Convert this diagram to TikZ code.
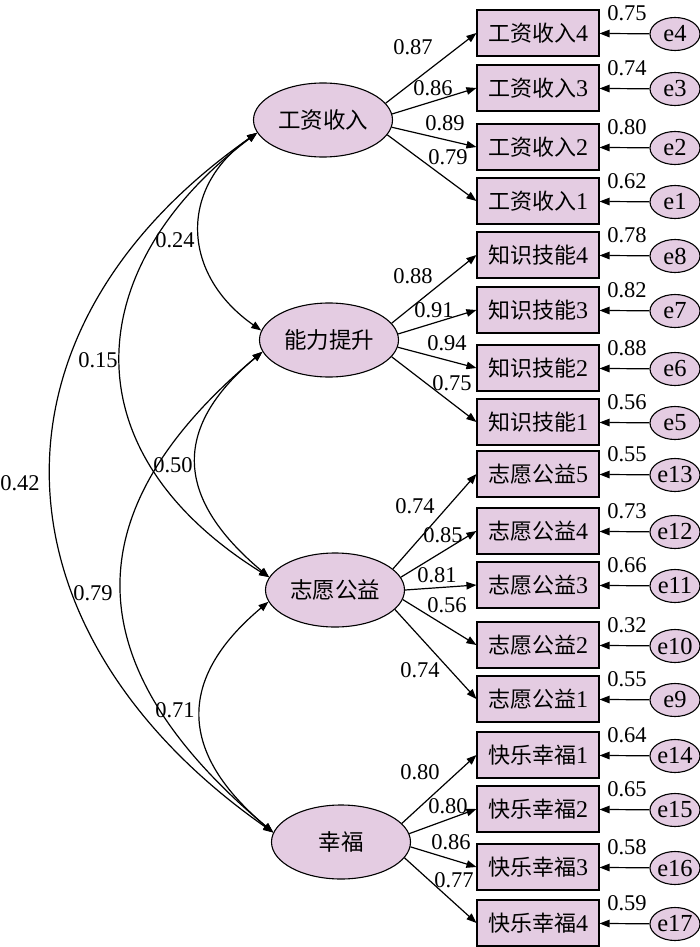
\documentclass[tikz,border=0pt]{standalone}
\usepackage{fontspec}
\setmainfont{Liberation Serif}
\newfontfamily\cjk{Noto Sans CJK SC}
\usetikzlibrary{shapes.geometric,arrows.meta}
\definecolor{pur}{RGB}{228,204,226}
\newcommand{\cn}[1]{{\fontsize{22}{24}\selectfont\cjk #1}}
\tikzset{
 lat/.style={ellipse, draw, line width=1.1pt, fill=pur, minimum width=139pt, minimum height=74pt, inner sep=0pt, font=\fontsize{22.5}{24}\selectfont\cjk},
 obs/.style={rectangle, draw, line width=1.1pt, fill=pur, minimum width=122pt, minimum height=46pt, inner sep=0pt, font=\fontsize{24}{26}\selectfont},
 err/.style={ellipse, draw, line width=1.1pt, fill=pur, minimum width=50pt, minimum height=33pt, inner sep=0pt, font=\fontsize{24.5}{26}\selectfont},
 lbl/.style={inner sep=0pt, font=\fontsize{22.5}{24}\selectfont},
 arr/.style={line width=1.2pt, -{Triangle[length=10pt,width=7.5pt]}},
 cov/.style={line width=1.2pt, {Triangle[length=10pt,width=7.5pt]}-{Triangle[length=10pt,width=7.5pt]}},
}
\begin{document}
\begin{tikzpicture}[x=1pt,y=1pt]
\useasboundingbox (0,0) rectangle (700,-947);
% latent variables
\node[lat] (L1) at (323,-120) {工资收入};
\node[lat] (L2) at (329,-340) {能力提升};
\node[lat] (L3) at (335,-590) {志愿公益};
\node[lat] (L4) at (341,-842) {幸福};
% group 1
\node[obs] (a4) at (538,-33) {\cn{工资收入}4};
\node[obs] (a3) at (538,-88) {\cn{工资收入}3};
\node[obs] (a2) at (538,-147) {\cn{工资收入}2};
\node[obs] (a1) at (538,-201) {\cn{工资收入}1};
\node[err] (e4) at (675,-34) {e4};
\node[err] (e3) at (675,-89) {e3};
\node[err] (e2) at (675,-148) {e2};
\node[err] (e1) at (675,-202) {e1};
% group 2
\node[obs] (b4) at (538,-255) {\cn{知识技能}4};
\node[obs] (b3) at (538,-310) {\cn{知识技能}3};
\node[obs] (b2) at (538,-368) {\cn{知识技能}2};
\node[obs] (b1) at (538,-422) {\cn{知识技能}1};
\node[err] (e8) at (675,-256) {e8};
\node[err] (e7) at (675,-311) {e7};
\node[err] (e6) at (675,-369) {e6};
\node[err] (e5) at (675,-423) {e5};
% group 3
\node[obs] (c5) at (538,-474) {\cn{志愿公益}5};
\node[obs] (c4) at (538,-531) {\cn{志愿公益}4};
\node[obs] (c3) at (538,-585) {\cn{志愿公益}3};
\node[obs] (c2) at (538,-645) {\cn{志愿公益}2};
\node[obs] (c1) at (538,-699) {\cn{志愿公益}1};
\node[err] (e13) at (675,-475) {e13};
\node[err] (e12) at (675,-532) {e12};
\node[err] (e11) at (675,-586) {e11};
\node[err] (e10) at (675,-646) {e10};
\node[err] (e9) at (675,-700) {e9};
% group 4
\node[obs] (d1) at (538,-755) {\cn{快乐幸福}1};
\node[obs] (d2) at (538,-809) {\cn{快乐幸福}2};
\node[obs] (d3) at (538,-867) {\cn{快乐幸福}3};
\node[obs] (d4) at (538,-923) {\cn{快乐幸福}4};
\node[err] (e14) at (675,-756) {e14};
\node[err] (e15) at (675,-810) {e15};
\node[err] (e16) at (675,-868) {e16};
\node[err] (e17) at (675,-924) {e17};
% error arrows
\foreach \e/\o in {e4/a4,e3/a3,e2/a2,e1/a1,e8/b4,e7/b3,e6/b2,e5/b1,e13/c5,e12/c4,e11/c3,e10/c2,e9/c1,e14/d1,e15/d2,e16/d3,e17/d4}
  \draw[arr] (\e) -- (\o);
% error variance labels
\node[lbl] (v4) at (627,-13) {0.75};
\node[lbl] (v3) at (627,-68) {0.74};
\node[lbl] (v2) at (627,-127) {0.80};
\node[lbl] (v1) at (627,-181) {0.62};
\node[lbl] (v8) at (627,-235) {0.78};
\node[lbl] (v7) at (627,-290) {0.82};
\node[lbl] (v6) at (627,-348) {0.88};
\node[lbl] (v5) at (627,-402) {0.56};
\node[lbl] (v13) at (627,-454) {0.55};
\node[lbl] (v12) at (627,-511) {0.73};
\node[lbl] (v11) at (627,-565) {0.66};
\node[lbl] (v10) at (627,-625) {0.32};
\node[lbl] (v9) at (627,-679) {0.55};
\node[lbl] (v14) at (627,-735) {0.64};
\node[lbl] (v15) at (627,-789) {0.65};
\node[lbl] (v16) at (627,-847) {0.58};
\node[lbl] (v17) at (627,-903) {0.59};
% loadings
\draw[arr] (L1.15) -- (a4.west);
\draw[arr] (L1.5) -- (a3.west);
\draw[arr] (L1.-6) -- (a2.west);
\draw[arr] (L1.-13) -- (a1.west);
\draw[arr] (L2.15) -- (b4.west);
\draw[arr] (L2.5) -- (b3.west);
\draw[arr] (L2.-6) -- (b2.west);
\draw[arr] (L2.-15) -- (b1.west);
\draw[arr] (L3.20) -- (c5.west);
\draw[arr] (L3.11) -- (c4.west);
\draw[arr] (L3.0) -- (c3.west);
\draw[arr] (L3.-8) -- (c2.west);
\draw[arr] (L3.-18) -- (c1.west);
\draw[arr] (L4.17) -- (d1.west);
\draw[arr] (L4.7) -- (d2.west);
\draw[arr] (L4.-4) -- (d3.west);
\draw[arr] (L4.-14) -- (d4.west);
% loading labels
\node[lbl] (la4) at (413,-47) {0.87};
\node[lbl] (la3) at (433,-88) {0.86};
\node[lbl] (la2) at (445,-123) {0.89};
\node[lbl] (la1) at (448,-157) {0.79};
\node[lbl] (lb4) at (413,-276) {0.88};
\node[lbl] (lb3) at (434,-310) {0.91};
\node[lbl] (lb2) at (447,-343) {0.94};
\node[lbl] (lb1) at (452,-383) {0.75};
\node[lbl] (lc5) at (415,-506) {0.74};
\node[lbl] (lc4) at (443,-535) {0.85};
\node[lbl] (lc3) at (437,-575) {0.81};
\node[lbl] (lc2) at (447,-605) {0.56};
\node[lbl] (lc1) at (420,-670) {0.74};
\node[lbl] (ld1) at (420,-772) {0.80};
\node[lbl] (ld2) at (448,-806) {0.80};
\node[lbl] (ld3) at (451,-842) {0.86};
\node[lbl] (ld4) at (454,-880) {0.77};
% covariances
\draw[cov] (L1.191) .. controls +(215:97) and +(145:97) .. (L2.172);
\draw[cov] (L1.191) .. controls +(217:215) and +(148:245) .. (L3.169);
\draw[cov] (L1.191) .. controls +(215:348) and +(145:348) .. (L4.172);
\draw[cov] (L2.190) .. controls +(220:121) and +(140:121) .. (L3.169);
\draw[cov] (L2.190) .. controls +(220:254) and +(140:254) .. (L4.172);
\draw[cov] (L3.190) .. controls +(220:122) and +(140:122) .. (L4.172);
\node[lbl] (k1) at (175,-240) {0.24};
\node[lbl] (k2) at (98,-360) {0.15};
\node[lbl] (k3) at (20,-483) {0.42};
\node[lbl] (k4) at (173,-465) {0.50};
\node[lbl] (k5) at (93,-593) {0.79};
\node[lbl] (k6) at (175,-710) {0.71};
\end{tikzpicture}
\end{document}
